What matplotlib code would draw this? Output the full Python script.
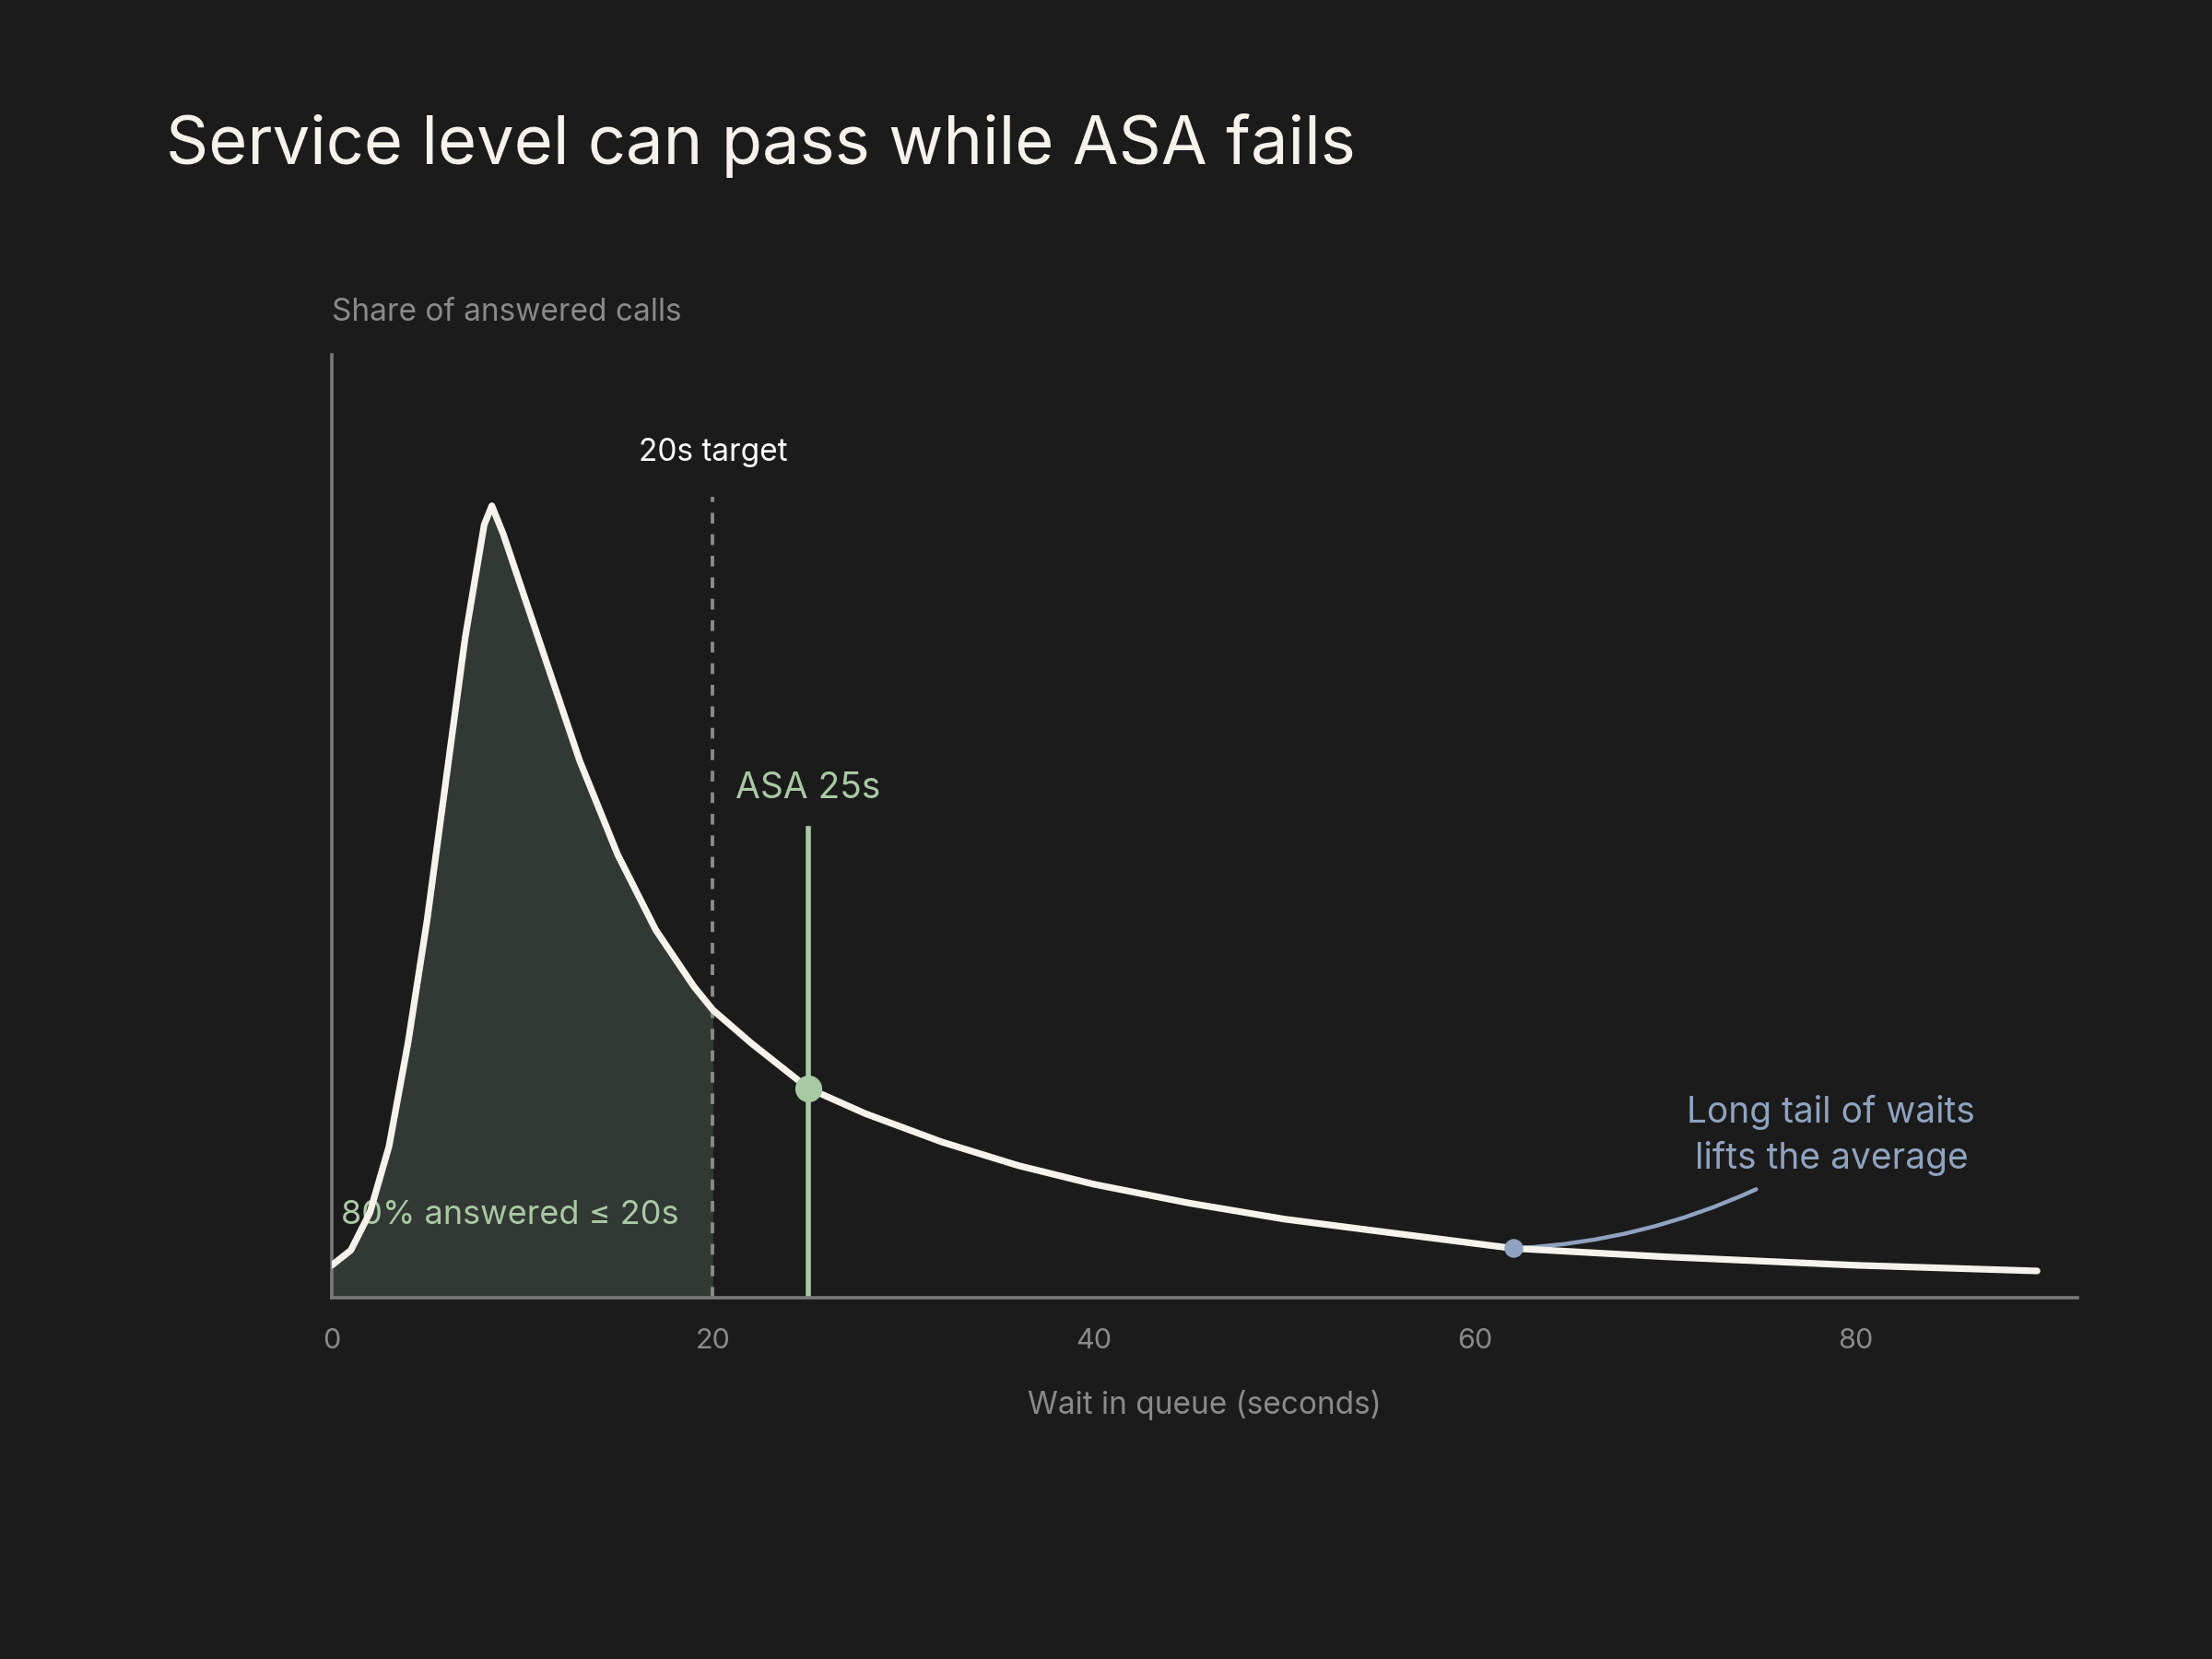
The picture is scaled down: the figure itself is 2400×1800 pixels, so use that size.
import matplotlib
matplotlib.use("Agg")
import matplotlib.pyplot as plt

# wait in queue (s) and share of answered calls (relative density)
wait_s = [0, 1, 2, 3, 4, 5, 6, 7, 8, 8.4, 9, 10, 11, 12, 13, 14, 15, 16, 17, 18, 19, 20,
          22, 25, 28, 32, 36, 40, 45, 50, 55, 62, 70, 80, 89.5]
share = [0.034, 0.05, 0.09, 0.16, 0.27, 0.40, 0.55, 0.70, 0.82, 0.84, 0.81, 0.75, 0.69,
         0.63, 0.57, 0.52, 0.47, 0.43, 0.39, 0.36, 0.33, 0.305,
         0.27, 0.222, 0.195, 0.165, 0.14, 0.12, 0.10, 0.083, 0.07, 0.052, 0.043, 0.034, 0.028]
target_s = 20
asa_s = 25
asa_share = 0.222
tail_s = 62
tail_share = 0.052
xticks = [0, 20, 40, 60, 80]

BG = "#1b1b1b"
plt.rcParams["font.family"] = ["Inter", "DejaVu Sans"]

fig = plt.figure(figsize=(12, 9), dpi=200, facecolor=BG)
ax = fig.add_axes([0.150, 0.218, 0.789, 0.568], facecolor=BG)

fx = [x for x in wait_s if x <= target_s]
fy = share[:len(fx)]
ax.fill_between(fx, fy, 0, color="#323833", lw=0)
ax.plot(wait_s, share, color="#f5f3ec", lw=2.6, solid_capstyle="round", zorder=4)

ax.plot([target_s, target_s], [0, 0.85], color="#8a8a8a", lw=1.4, ls=(0, (3, 3)))
ax.text(target_s, 0.897, "20s target", color="white", fontsize=12, ha="center", va="center")

ax.plot([asa_s, asa_s], [0, 0.497], color="#a9c9a4", lw=2)
ax.scatter([asa_s], [asa_share], s=90, color="#a9c9a4", zorder=5)
ax.text(21.2, 0.54, "ASA 25s", color="#a9c9a4", fontsize=14, ha="left", va="center")

ax.text(0.5, 0.087, "80% answered ≤ 20s", color="#a9c9a4", fontsize=13, ha="left", va="center")

ax.scatter([tail_s], [tail_share], s=40, color="#8fa3c0", zorder=5)
ax.annotate("", xy=(tail_s, tail_share), xytext=(75, 0.117),
            arrowprops=dict(arrowstyle="-", color="#8fa3c0", lw=1.6,
                            connectionstyle="arc3,rad=-0.1"))
ax.text(78.7, 0.172, "Long tail of waits\nlifts the average", color="#8fa3c0",
        fontsize=14, ha="center", va="center", linespacing=1.4)

ax.set_xlim(0, 91.6)
ax.set_ylim(0, 1)
ax.set_xticks(xticks)
ax.set_yticks([])
ax.tick_params(axis="x", length=0, pad=12, labelsize=11, labelcolor="#8a8a8a")
for s in ("top", "right"):
    ax.spines[s].set_visible(False)
for s in ("left", "bottom"):
    ax.spines[s].set_color("#7a7a7a")
    ax.spines[s].set_linewidth(1.3)
ax.set_xlabel("Wait in queue (seconds)", color="#8a8a8a", fontsize=12, labelpad=14)
ax.text(0, 1.045, "Share of answered calls", color="#8a8a8a", fontsize=12,
        ha="left", va="center", transform=ax.transAxes)

fig.text(0.075, 0.912, "Service level can pass while ASA fails", color="#f5f3ec",
         fontsize=26, ha="left", va="center")

fig.savefig("out.png", dpi=200, facecolor=BG)
